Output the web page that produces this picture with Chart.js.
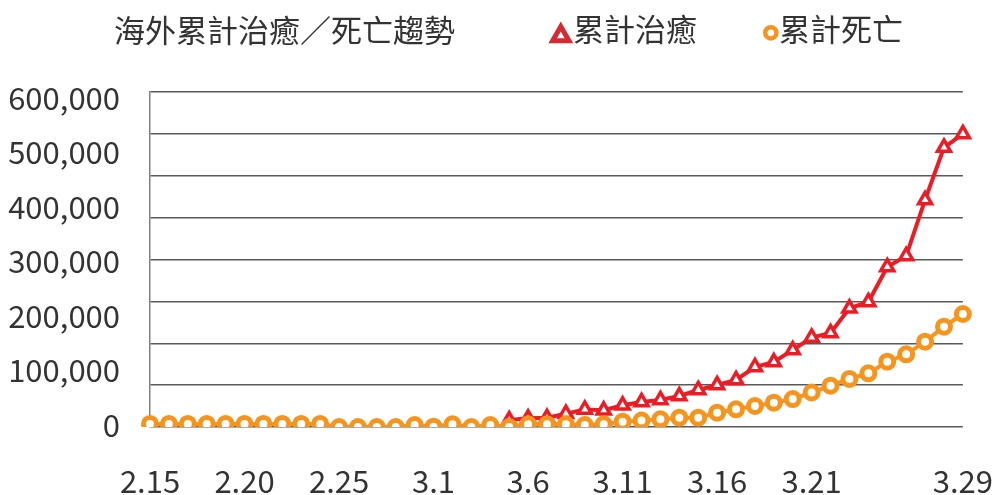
<!DOCTYPE html>
<html>
<head>
<meta charset="utf-8">
<script src="https://cdn.jsdelivr.net/npm/chart.js@4.4.1/dist/chart.umd.min.js"></script>
<style>
  html, body { margin: 0; padding: 0; background: #ffffff; }
  #wrap { width: 993px; height: 495px; position: relative; }
</style>
</head>
<body>
<div id="wrap"><canvas id="chart"></canvas></div>
<script>
const TITLE = '海外累計治癒／死亡趨勢';
const SERIES_NAMES = ['累計治癒', '累計死亡'];

const CATEGORIES = [
  '2.15','2.16','2.17','2.18','2.19','2.20','2.21','2.22','2.23','2.24',
  '2.25','2.26','2.27','2.28','2.29',
  '3.1','3.2','3.3','3.4','3.5','3.6','3.7','3.8','3.9','3.10',
  '3.11','3.12','3.13','3.14','3.15','3.16','3.17','3.18','3.19','3.20',
  '3.21','3.22','3.23','3.24','3.25','3.26','3.27','3.28','3.29'
];

const RECOVERED = [
  null, null, null, null, null, null, null, null, null, null,
  null, null, null, null, null,
  null, null, null, null, 12500, 15500, 16500, 23800, 31500, 30000,
  38900, 44800, 48400, 55500, 66300, 75200, 84200, 107500, 116400, 137900,
  160300, 168400, 212600, 223900, 286600, 306300, 406600, 500600, 524800
];

const DEATHS = [
  5400, 5400, 5400, 5400, 5400, 5400, 5400, 5400, 5400, 5400,
  0, 0, 0, 0, 3600,
  500, 4800, 0, 3600, 0, 4800, 4800, 4800, 3600, 4800,
  9500, 11500, 13800, 16700, 16700, 25600, 31700, 37600, 43500, 50100,
  61800, 74000, 86000, 96200, 117000, 130200, 152800, 179600, 202400
];

const X_TICK_LABELS = ['2.15','2.20','2.25','3.1','3.6','3.11','3.16','3.21','3.29'];
const Y_TICK_VALUES = [0, 100000, 200000, 300000, 400000, 500000, 600000];
const Y_GRID_VALUES = [0, 75000, 150000, 225000, 300000, 375000, 450000, 525000, 600000];

const FONT = '"Noto Sans CJK TC", "Noto Sans CJK JP", "Noto Sans", sans-serif';
const TEXT_COLOR = '#333333';
const RED = '#ED1C24';
const ORANGE = '#F7941D';

const header = {
  id: 'header',
  afterDraw(chart, args, opts) {
    const ctx = chart.ctx;
    ctx.save();
    ctx.fillStyle = TEXT_COLOR;
    ctx.textAlign = 'left';
    ctx.textBaseline = 'middle';
    ctx.font = opts.titleSize + 'px ' + FONT;
    ctx.fillText(opts.title, opts.titleX, opts.titleY);
    chart.data.datasets.forEach((ds, i) => {
      const it = opts.items[i];
      ctx.lineJoin = 'miter';
      ctx.fillStyle = '#ffffff';
      ctx.strokeStyle = it.color;
      ctx.lineWidth = it.lineWidth;
      ctx.beginPath();
      if (it.shape === 'triangle') {
        const s = Math.sin(Math.PI / 3);
        ctx.moveTo(it.x, it.y - it.r);
        ctx.lineTo(it.x + it.r * s, it.y + it.r / 2);
        ctx.lineTo(it.x - it.r * s, it.y + it.r / 2);
        ctx.closePath();
      } else {
        ctx.arc(it.x, it.y, it.r, 0, Math.PI * 2);
      }
      ctx.fill();
      ctx.stroke();
      ctx.fillStyle = TEXT_COLOR;
      ctx.font = opts.fontSize + 'px ' + FONT;
      ctx.textAlign = 'left';
      ctx.textBaseline = 'middle';
      ctx.fillText(ds.label, it.textX, opts.textY);
    });
    ctx.restore();
  }
};

new Chart(document.getElementById('chart'), {
  type: 'line',
  data: {
    labels: CATEGORIES,
    datasets: [
      {
        label: SERIES_NAMES[0],
        data: RECOVERED,
        order: 1,
        borderColor: RED,
        backgroundColor: '#ffffff',
        borderWidth: 4,
        pointStyle: 'triangle',
        pointRadius: 7.5,
        pointBorderWidth: 3.5,
        pointBorderColor: RED,
        pointBackgroundColor: '#ffffff',
        tension: 0,
        fill: false
      },
      {
        label: SERIES_NAMES[1],
        data: DEATHS,
        order: 0,
        borderColor: ORANGE,
        backgroundColor: '#ffffff',
        borderWidth: 4,
        pointStyle: 'circle',
        pointRadius: 6.5,
        pointBorderWidth: 5,
        pointBorderColor: ORANGE,
        pointBackgroundColor: '#ffffff',
        tension: 0,
        fill: false
      }
    ]
  },
  options: {
    responsive: true,
    maintainAspectRatio: false,
    animation: false,
    devicePixelRatio: 1,
    layout: { padding: { left: 0, right: 0, top: 92, bottom: 0 } },
    plugins: {
      legend: { display: false },
      tooltip: { enabled: false },
      title: { display: false },
      header: {
        title: TITLE,
        titleSize: 31,
        titleX: 114,
        titleY: 30,
        fontSize: 31,
        textY: 29.5,
        items: [
          { shape: 'triangle', x: 560.8, y: 36, r: 9.4, lineWidth: 5, color: '#D42A31', textX: 573 },
          { shape: 'circle', x: 770.8, y: 32.8, r: 5.6, lineWidth: 4.5, color: ORANGE, textX: 779 }
        ]
      }
    },
    scales: {
      x: {
        type: 'category',
        offset: false,
        grid: { display: true, drawOnChartArea: false, drawTicks: true, tickLength: 36, color: 'rgba(0,0,0,0)' },
        border: { display: false },
        ticks: {
          autoSkip: false,
          maxRotation: 0,
          minRotation: 0,
          padding: 0,
          color: TEXT_COLOR,
          font: { family: FONT, size: 31, lineHeight: 1.2 },
          callback: function (value, index) {
            const lab = CATEGORIES[index];
            return X_TICK_LABELS.includes(lab) ? lab : '';
          }
        },
        afterFit: (s) => { s.height = 68; }
      },
      y: {
        position: 'left',
        weight: 0,
        min: 0,
        max: 600000,
        afterBuildTicks: (s) => { s.ticks = Y_GRID_VALUES.map(v => ({ value: v })); },
        ticks: { display: false },
        grid: { color: '#595959', lineWidth: 1.5, drawTicks: false },
        border: { display: true, color: '#808080', width: 1.5 },
        afterFit: (s) => { s.width = 0; }
      },
      yLabels: {
        position: 'left',
        weight: 1,
        min: -3480,
        max: 610820,
        afterBuildTicks: (s) => { s.ticks = Y_TICK_VALUES.map(v => ({ value: v })); },
        grid: { display: false, drawTicks: false },
        border: { display: false },
        ticks: {
          padding: 30,
          color: TEXT_COLOR,
          font: { family: FONT, size: 31, lineHeight: 1.2 },
          callback: (v) => Number(v).toLocaleString('en-US')
        },
        afterFit: (s) => { s.width = 150; }
      }
    }
  },
  plugins: [header]
});
</script>
</body>
</html>
